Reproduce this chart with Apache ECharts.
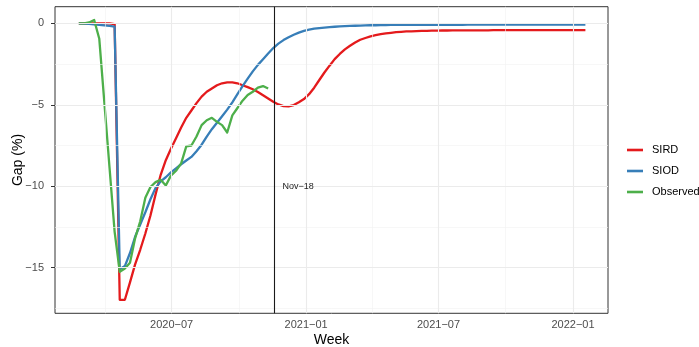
<!DOCTYPE html>
<html>
<head>
<meta charset="utf-8">
<script src="https://cdn.jsdelivr.net/npm/echarts@6/dist/echarts.min.js"></script>
<style>
html, body { margin: 0; padding: 0; background: #fff; }
#chart { width: 699px; height: 347px; }
</style>
</head>
<body>
<div id="chart"></div>
<script>
// weekly observations, first week starts 2020-02-25
var firstWeek = '2020-02-25';

// SIRD model gap (%), one value per week
var sird = [
	0, 0, 0, 0, 0, 0, 0, -0.05,
	-16.97, -16.97, -15.9, -14.8, -13.9, -12.9, -11.8, -10.5,
	-9.3, -8.4, -7.7, -7.05, -6.4, -5.8, -5.35, -4.9,
	-4.5, -4.2, -4.0, -3.8, -3.68, -3.63, -3.62, -3.68,
	-3.8, -3.92, -4.05, -4.22, -4.42, -4.62, -4.82, -4.98,
	-5.08, -5.1, -5.02, -4.85, -4.65, -4.35, -3.95, -3.48,
	-3.02, -2.6, -2.2, -1.88, -1.6, -1.38, -1.18, -1.01,
	-0.9, -0.8, -0.73, -0.67, -0.62, -0.58, -0.54, -0.52,
	-0.5, -0.49, -0.48, -0.47, -0.46, -0.45, -0.45, -0.44,
	-0.44, -0.43, -0.43, -0.43, -0.43, -0.43, -0.43, -0.43,
	-0.43, -0.42, -0.42, -0.42, -0.42, -0.42, -0.42, -0.42,
	-0.42, -0.42, -0.42, -0.42, -0.42, -0.42, -0.42, -0.42,
	-0.42, -0.42, -0.42, -0.42
];

// SIOD model gap (%)
var siod = [
	0, -0.02, -0.04, -0.07, -0.1, -0.13, -0.16, -0.2,
	-15.1, -14.9, -14.1, -13.1, -12.35, -11.6, -10.8, -10.1,
	-9.7, -9.45, -9.15, -8.9, -8.65, -8.42, -8.2, -7.85,
	-7.45, -6.95, -6.5, -6.1, -5.7, -5.3, -4.85, -4.35,
	-3.85, -3.4, -2.95, -2.55, -2.2, -1.85, -1.52, -1.25,
	-1.03, -0.85, -0.7, -0.57, -0.46, -0.39, -0.33, -0.29,
	-0.26, -0.23, -0.21, -0.19, -0.17, -0.16, -0.15, -0.14,
	-0.13, -0.12, -0.12, -0.11, -0.11, -0.1, -0.1, -0.1,
	-0.09, -0.09, -0.09, -0.09, -0.09, -0.09, -0.09, -0.09,
	-0.09, -0.09, -0.09, -0.09, -0.08, -0.08, -0.08, -0.08,
	-0.08, -0.08, -0.08, -0.08, -0.08, -0.08, -0.08, -0.08,
	-0.08, -0.08, -0.08, -0.08, -0.08, -0.08, -0.08, -0.08,
	-0.08, -0.08, -0.08, -0.08
];

// observed gap (%)
var observed = [
	0, 0, 0.05, 0.2, -0.95, -4.9, -8.85, -12.8,
	-15.25, -15.05, -14.7, -13.2, -12.15, -10.7, -10.05, -9.75,
	-9.6, -9.95, -9.35, -9.05, -8.6, -7.55, -7.5, -6.95,
	-6.25, -5.95, -5.8, -6.05, -6.25, -6.7, -5.65, -5.2,
	-4.75, -4.4, -4.2, -3.95, -3.85, -4.0
];

// axis ticks / grid
var xMajor = ['2020-07-01', '2021-01-01', '2021-07-01', '2022-01-01'];
var xMinor = ['2020-04-01', '2020-10-01', '2021-04-01', '2021-10-01'];
var yMajor = [0, -5, -10, -15];
var yMinor = [-2.5, -7.5, -12.5, -17.5];
var cutDate = '2020-11-18';
var cutLabel = 'Nov\u221218';

function ts(s) {
	var p = s.split('-');
	return new Date(+p[0], +p[1] - 1, +p[2]).getTime();
}

function weekList(start, n) {
	var d0 = new Date(ts(start));
	var out = [];
	for (var i = 0; i < n; i++) {
		var d = new Date(d0.getFullYear(), d0.getMonth(), d0.getDate() + 7 * i);
		out.push(d.getTime());
	}
	return out;
}

function pairs(vals) {
	var w = weekList(firstWeek, vals.length);
	return vals.map(function (v, i) { return [w[i], v]; });
}

function minus(v) {
	return v < 0 ? '\u2212' + (-v) : '' + v;
}

var font = 'Liberation Sans, Arial, Helvetica, sans-serif';
var chart = echarts.init(document.getElementById('chart'));

var gridLines = [];
xMinor.forEach(function (d) {
	gridLines.push({ xAxis: ts(d), lineStyle: { color: '#F2F2F2', width: 0.6, type: 'solid' } });
});
yMinor.forEach(function (v) {
	gridLines.push({ yAxis: v, lineStyle: { color: '#F2F2F2', width: 0.6, type: 'solid' } });
});
xMajor.forEach(function (d) {
	gridLines.push({ xAxis: ts(d), lineStyle: { color: '#EBEBEB', width: 1.1, type: 'solid' } });
});
yMajor.forEach(function (v) {
	gridLines.push({ yAxis: v, lineStyle: { color: '#EBEBEB', width: 1.1, type: 'solid' } });
});
gridLines.push({ xAxis: ts(cutDate), lineStyle: { color: '#1a1a1a', width: 1.1, type: 'solid' } });

function lineSeries(name, color, vals) {
	return {
		name: name,
		type: 'line',
		data: pairs(vals),
		showSymbol: false,
		symbol: 'none',
		z: 3,
		lineStyle: { color: color, width: 2.3, join: 'round' },
		itemStyle: { color: color },
		emphasis: { disabled: true }
	};
}

var option = {
	animation: false,
	textStyle: { fontFamily: font },
	grid: {
		left: 55, right: 91, top: 6.7, bottom: 33.7,
		containLabel: false,
		outerBoundsMode: 'none',
		show: true, borderColor: '#333333', borderWidth: 1, backgroundColor: '#fff'
	},
	legend: {
		orient: 'vertical',
		left: 627,
		top: 143,
		padding: 0,
		icon: 'rect',
		itemWidth: 16,
		itemHeight: 2.6,
		itemGap: 7,
		selectedMode: false,
		textStyle: { fontSize: 11, color: '#000', lineHeight: 14, padding: [0, 0, 0, 4], fontFamily: font, overflow: 'none' },
		data: ['SIRD', 'SIOD', 'Observed']
	},
	xAxis: {
		type: 'value',
		min: ts('2020-01-23') + 10 * 3600e3,
		max: ts('2022-02-17') + 22 * 3600e3,
		name: 'Week',
		nameLocation: 'middle',
		nameGap: 20,
		nameMoveOverlap: false,
		nameTextStyle: { fontSize: 14, color: '#000', fontFamily: font },
		axisLine: { show: false },
		axisTick: { show: true, length: 4, customValues: xMajor.map(ts), lineStyle: { color: '#333333' } },
		axisLabel: {
			customValues: xMajor.map(ts),
			color: '#4D4D4D', fontSize: 11, margin: 6, fontFamily: font,
			formatter: function (v) {
				var d = new Date(v);
				var m = d.getMonth() + 1;
				return d.getFullYear() + '\u2212' + (m < 10 ? '0' + m : m);
			}
		},
		splitLine: { show: false }
	},
	yAxis: {
		type: 'value',
		min: -17.8,
		max: 1.02,
		name: 'Gap (%)',
		nameLocation: 'middle',
		nameGap: 30,
		nameMoveOverlap: false,
		nameTextStyle: { fontSize: 14, color: '#000', fontFamily: font },
		axisLine: { show: false },
		axisTick: { show: true, length: 4, customValues: yMajor, lineStyle: { color: '#333333' } },
		axisLabel: { customValues: yMajor, color: '#4D4D4D', fontSize: 11, margin: 11, formatter: minus, fontFamily: font },
		splitLine: { show: false }
	},
	series: [
		{
			type: 'line',
			data: [],
			z: 1,
			silent: true,
			markLine: {
				silent: true,
				symbol: ['none', 'none'],
				label: { show: false },
				emphasis: { disabled: true },
				data: gridLines
			},
			markPoint: {
				silent: true,
				symbol: 'rect',
				symbolSize: 1,
				itemStyle: { color: 'rgba(0,0,0,0)' },
				label: { show: true, position: 'inside', formatter: cutLabel, fontSize: 9, color: '#222', fontFamily: font },
				data: [{ coord: [ts('2020-12-21'), -10] }]
			}
		},
		lineSeries('SIRD', '#E41A1C', sird),
		lineSeries('SIOD', '#377EB8', siod),
		lineSeries('Observed', '#4DAF4A', observed)
	]
};

chart.setOption(option);
</script>
</body>
</html>
